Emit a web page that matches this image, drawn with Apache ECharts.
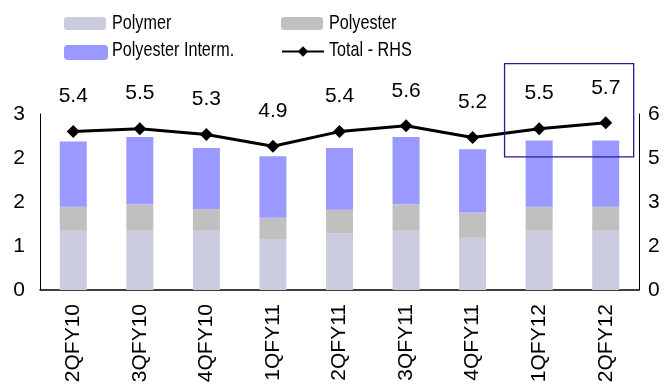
<!DOCTYPE html>
<html>
<head>
<meta charset="utf-8">
<script src="https://cdn.jsdelivr.net/npm/echarts@6/dist/echarts.min.js"></script>
<style>
  html, body { margin: 0; padding: 0; background: #fff; }
  #chart { width: 665px; height: 387px; }
</style>
</head>
<body>
<div id="chart"></div>
<script>
// Quarterly breakdown by segment (left axis) and total (right axis)
const categories = ['2QFY10', '3QFY10', '4QFY10', '1QFY11', '2QFY11', '3QFY11', '4QFY11', '1QFY12', '2QFY12'];
const polymer = [1.01, 1.01, 1.01, 0.87, 0.96, 1.01, 0.89, 1.01, 1.01];
const polyester = [0.41, 0.45, 0.37, 0.36, 0.41, 0.45, 0.43, 0.41, 0.41];
const polyesterInterm = [1.11, 1.15, 1.04, 1.05, 1.05, 1.15, 1.08, 1.13, 1.13];
const totalRHS = [5.4, 5.5, 5.3, 4.9, 5.4, 5.6, 5.2, 5.5, 5.7];
const leftTicks = { min: 0, max: 3, interval: 0.75 };
const rightTicks = { min: 0, max: 6, interval: 1.5 };
const seriesNames = ['Polymer', 'Polyester', 'Polyester Interm.', 'Total - RHS'];
const highlighted = ['1QFY12', '2QFY12'];

const FONT = 'Liberation Sans, Arial, sans-serif';
const chart = echarts.init(document.getElementById('chart'));

// Legend keys in a 2x2 block; the names are set in a condensed face next to them
const legendSlots = [
  { left: 64, top: 17, textX: 112, textY: 23 },
  { left: 281, top: 17, textX: 329, textY: 23 },
  { left: 64, top: 45, textX: 112, textY: 50 },
  { left: 281, top: 45, textX: 329, textY: 50 }
];
const legends = seriesNames.map((name, i) => ({
  data: [name],
  left: legendSlots[i].left,
  top: legendSlots[i].top,
  padding: 0,
  itemWidth: i === 2 ? 44 : 42,
  itemHeight: i === 2 ? 15 : 13,
  selectedMode: false,
  formatter: () => '',
  textStyle: { fontSize: 1 }
}));
const legendNames = seriesNames.map((name, i) => ({
  type: 'text',
  x: legendSlots[i].textX,
  y: legendSlots[i].textY,
  scaleX: 0.77,
  style: {
    text: name, x: 0, y: 0, fill: '#000',
    font: '21px ' + FONT, textAlign: 'left', textVerticalAlign: 'middle'
  }
}));

chart.setOption({
  animation: false,
  textStyle: { fontFamily: FONT },
  grid: { left: 40, right: 26, top: 114, bottom: 97 },
  legend: legends,
  xAxis: {
    type: 'category',
    data: categories,
    axisLine: { lineStyle: { color: '#000', width: 1.5 } },
    axisTick: { show: false },
    axisLabel: { rotate: 90, margin: 14, fontSize: 21, color: '#000', fontFamily: FONT }
  },
  yAxis: [
    {
      type: 'value',
      min: leftTicks.min, max: leftTicks.max, interval: leftTicks.interval,
      axisLine: { show: true, lineStyle: { color: '#000', width: 1 } },
      axisTick: { show: false },
      splitLine: { show: false },
      axisLabel: { margin: 15, fontSize: 21, color: '#000', fontFamily: FONT,
        formatter: v => String(Math.round(v)) }
    },
    {
      type: 'value',
      min: rightTicks.min, max: rightTicks.max, interval: rightTicks.interval,
      position: 'right',
      axisLine: { show: true, lineStyle: { color: '#000', width: 1 } },
      axisTick: { show: false },
      splitLine: { show: false },
      axisLabel: { margin: 9, fontSize: 21, color: '#000', fontFamily: FONT,
        formatter: v => String(Math.round(v)) }
    }
  ],
  series: [
    {
      name: seriesNames[0], type: 'bar', stack: 'seg', barWidth: 27,
      itemStyle: { color: '#CCCCE0' }, data: polymer
    },
    {
      name: seriesNames[1], type: 'bar', stack: 'seg', barWidth: 27,
      itemStyle: { color: '#C0C0C0' }, data: polyester
    },
    {
      name: seriesNames[2], type: 'bar', stack: 'seg', barWidth: 27,
      itemStyle: { color: '#9999FF' }, data: polyesterInterm
    },
    {
      name: seriesNames[3], type: 'line', yAxisIndex: 1,
      symbol: 'diamond', symbolSize: 13,
      lineStyle: { color: '#000', width: 3 },
      itemStyle: { color: '#000' },
      label: { show: true, position: 'top', distance: 18, fontSize: 21, color: '#000',
        fontFamily: FONT, formatter: p => p.value.toFixed(1) },
      data: totalRHS
    }
  ]
});

// Outline around the latest two quarters
const i0 = categories.indexOf(highlighted[0]);
const i1 = categories.indexOf(highlighted[1]);
const pA = chart.convertToPixel({ xAxisIndex: 0, yAxisIndex: 1 }, [i0, 7.72]);
const pB = chart.convertToPixel({ xAxisIndex: 0, yAxisIndex: 1 }, [i1, 4.54]);
const step = pB[0] - pA[0];
chart.setOption({
  graphic: legendNames.concat([{
    type: 'rect',
    shape: { x: pA[0] - step * 0.52, y: pA[1], width: step * 1.94, height: pB[1] - pA[1] },
    style: { fill: 'none', stroke: '#2B1A8C', lineWidth: 1.3 },
    z: 10
  }])
});
</script>
</body>
</html>
